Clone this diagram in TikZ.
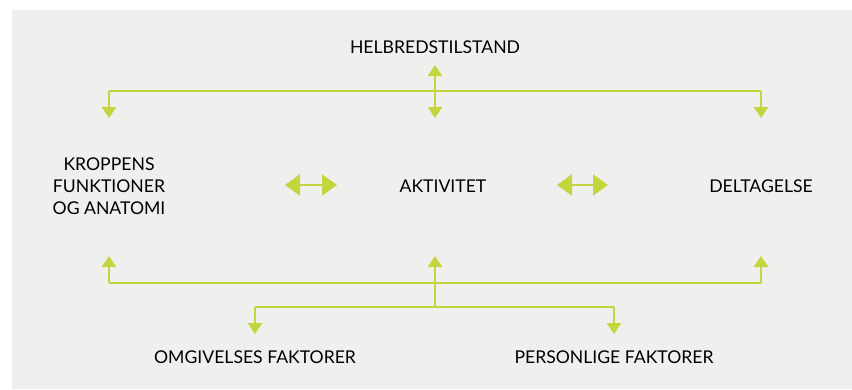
\documentclass[tikz,border=0pt]{standalone}
\usepackage{fontspec}
\setmainfont{Lato}
\usetikzlibrary{arrows.meta}
\definecolor{bgray}{RGB}{239,239,238}
\definecolor{lime}{RGB}{196,213,62}
\begin{document}
\begin{tikzpicture}[x=1pt,y=-1pt,
  lbl/.style={font=\fontsize{17.6}{22}\selectfont, text=black, inner sep=0pt, align=center},
  conn/.style={draw=lime, line width=2.6pt},
  tipd/.style={-{Triangle[width=14pt,length=11pt]}},
  tipdd/.style={{Triangle[width=14pt,length=11pt]}-{Triangle[width=14pt,length=11pt]}},
  bigdd/.style={{Triangle[width=21pt,length=15pt]}-{Triangle[width=21pt,length=15pt]}}
]
\useasboundingbox (0,0) rectangle (852,389);
\fill[bgray] (12,10) rectangle (852,389);

\node[lbl] (helb) at (435,47) {HELBREDSTILSTAND};
\node[lbl] (krop) at (109,186) {KROPPENS\\FUNKTIONER\\OG ANATOMI};
\node[lbl] (akt) at (443,186) {AKTIVITET};
\node[lbl] (delt) at (761,186) {DELTAGELSE};
\node[lbl] (omg) at (255,357) {OMGIVELSES FAKTORER};
\node[lbl] (pers) at (614,357) {PERSONLIGE FAKTORER};

% top distribution
\coordinate (tTop) at (435,65);
\coordinate (tL) at (109,91);
\coordinate (tR) at (761,91);
\coordinate (tC) at (435,118);
\coordinate (tLd) at (109,118);
\coordinate (tRd) at (761,118);
\draw[conn, tipdd] (tTop) -- (tC);
\draw[conn] (tL) -- (tR);
\draw[conn, tipd] (tL) -- (tLd);
\draw[conn, tipd] (tR) -- (tRd);

% middle double arrows
\coordinate (m1a) at (285,185);
\coordinate (m1b) at (337,185);
\coordinate (m2a) at (557,185);
\coordinate (m2b) at (608,185);
\draw[conn, bigdd] (m1a) -- (m1b);
\draw[conn, bigdd] (m2a) -- (m2b);

% bottom distribution
\coordinate (bL) at (109,283);
\coordinate (bC) at (435,283);
\coordinate (bR) at (761,283);
\coordinate (bLu) at (109,256);
\coordinate (bCu) at (435,256);
\coordinate (bRu) at (761,256);
\coordinate (bJ) at (435,307);
\coordinate (bOL) at (255,307);
\coordinate (bOR) at (614,307);
\coordinate (bOLd) at (255,334);
\coordinate (bORd) at (614,334);
\draw[conn] (bL) -- (bR);
\draw[conn, tipd] (bL) -- (bLu);
\draw[conn, tipd] (bJ) -- (bCu);
\draw[conn, tipd] (bR) -- (bRu);
\draw[conn] (bOL) -- (bOR);
\draw[conn, tipd] (bOL) -- (bOLd);
\draw[conn, tipd] (bOR) -- (bORd);
\end{tikzpicture}
\end{document}
